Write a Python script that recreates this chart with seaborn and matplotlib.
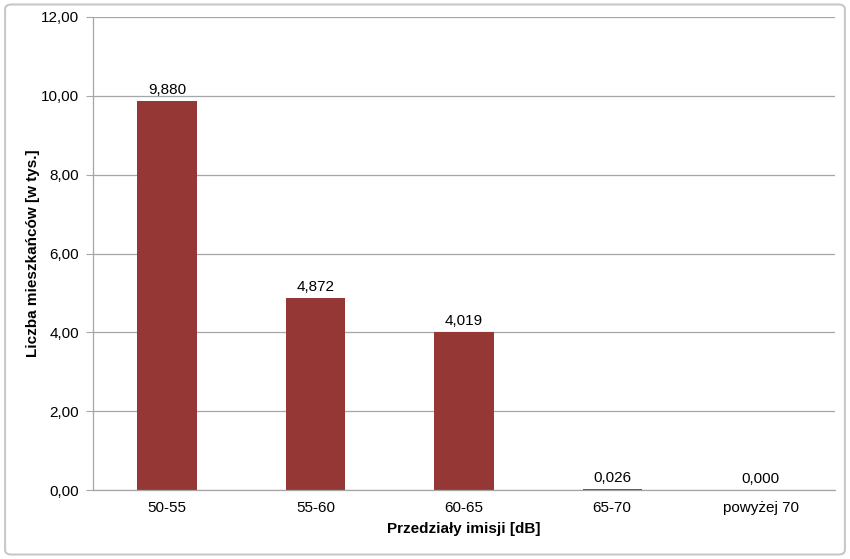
import seaborn as sns
import matplotlib.pyplot as plt
import pandas as pd
from matplotlib.patches import FancyBboxPatch

categories = ["50-55", "55-60", "60-65", "65-70", "powyżej 70"]
values = [9.880, 4.872, 4.019, 0.026, 0.000]
yticks = [0, 2, 4, 6, 8, 10, 12]

df = pd.DataFrame({"przedzial": categories, "liczba": values})

sns.set_style("white")
plt.rcParams["font.family"] = ["Liberation Sans", "DejaVu Sans"]
plt.rcParams["text.color"] = "black"
plt.rcParams["axes.labelcolor"] = "black"
plt.rcParams["xtick.color"] = "black"
plt.rcParams["ytick.color"] = "black"

fig = plt.figure(figsize=(8.5, 5.59), dpi=100)
ax = fig.add_axes([0.1094, 0.1234, 0.8726, 0.8462])

sns.barplot(data=df, x="przedzial", y="liczba", color="#953735", saturation=1,
            width=0.4, linewidth=0, ax=ax)

ax.set_ylim(0, 12)
ax.set_yticks(yticks)
ax.set_yticklabels([f"{t:.2f}".replace(".", ",") for t in yticks], fontsize=11)
ax.tick_params(axis="x", labelsize=11, length=0, pad=8)
ax.tick_params(axis="y", length=5, color="#a6a6a6", labelcolor="black", left=True, pad=5)
ax.grid(axis="y", color="#a6a6a6", linewidth=0.9)
ax.set_axisbelow(True)
for s in ["top", "right"]:
    ax.spines[s].set_visible(False)
for s in ["left", "bottom"]:
    ax.spines[s].set_color("#a6a6a6")
    ax.spines[s].set_linewidth(0.9)

for i, v in enumerate(values):
    ax.text(i, v + 0.09, f"{v:.3f}".replace(".", ","), ha="center", va="bottom", fontsize=11)

ax.set_xlabel("Przedziały imisji [dB]", fontsize=11, fontweight="bold", labelpad=5)
ax.set_ylabel("Liczba mieszkańców [w tys.]", fontsize=11, fontweight="bold", labelpad=1)

border = FancyBboxPatch((0.006, 0.008), 0.988, 0.984, boxstyle="round,pad=0,rounding_size=0.008",
                        transform=fig.transFigure, fill=False, edgecolor="#c8c8c8", linewidth=1.5)
fig.patches.append(border)

fig.savefig("out.png", dpi=100)
